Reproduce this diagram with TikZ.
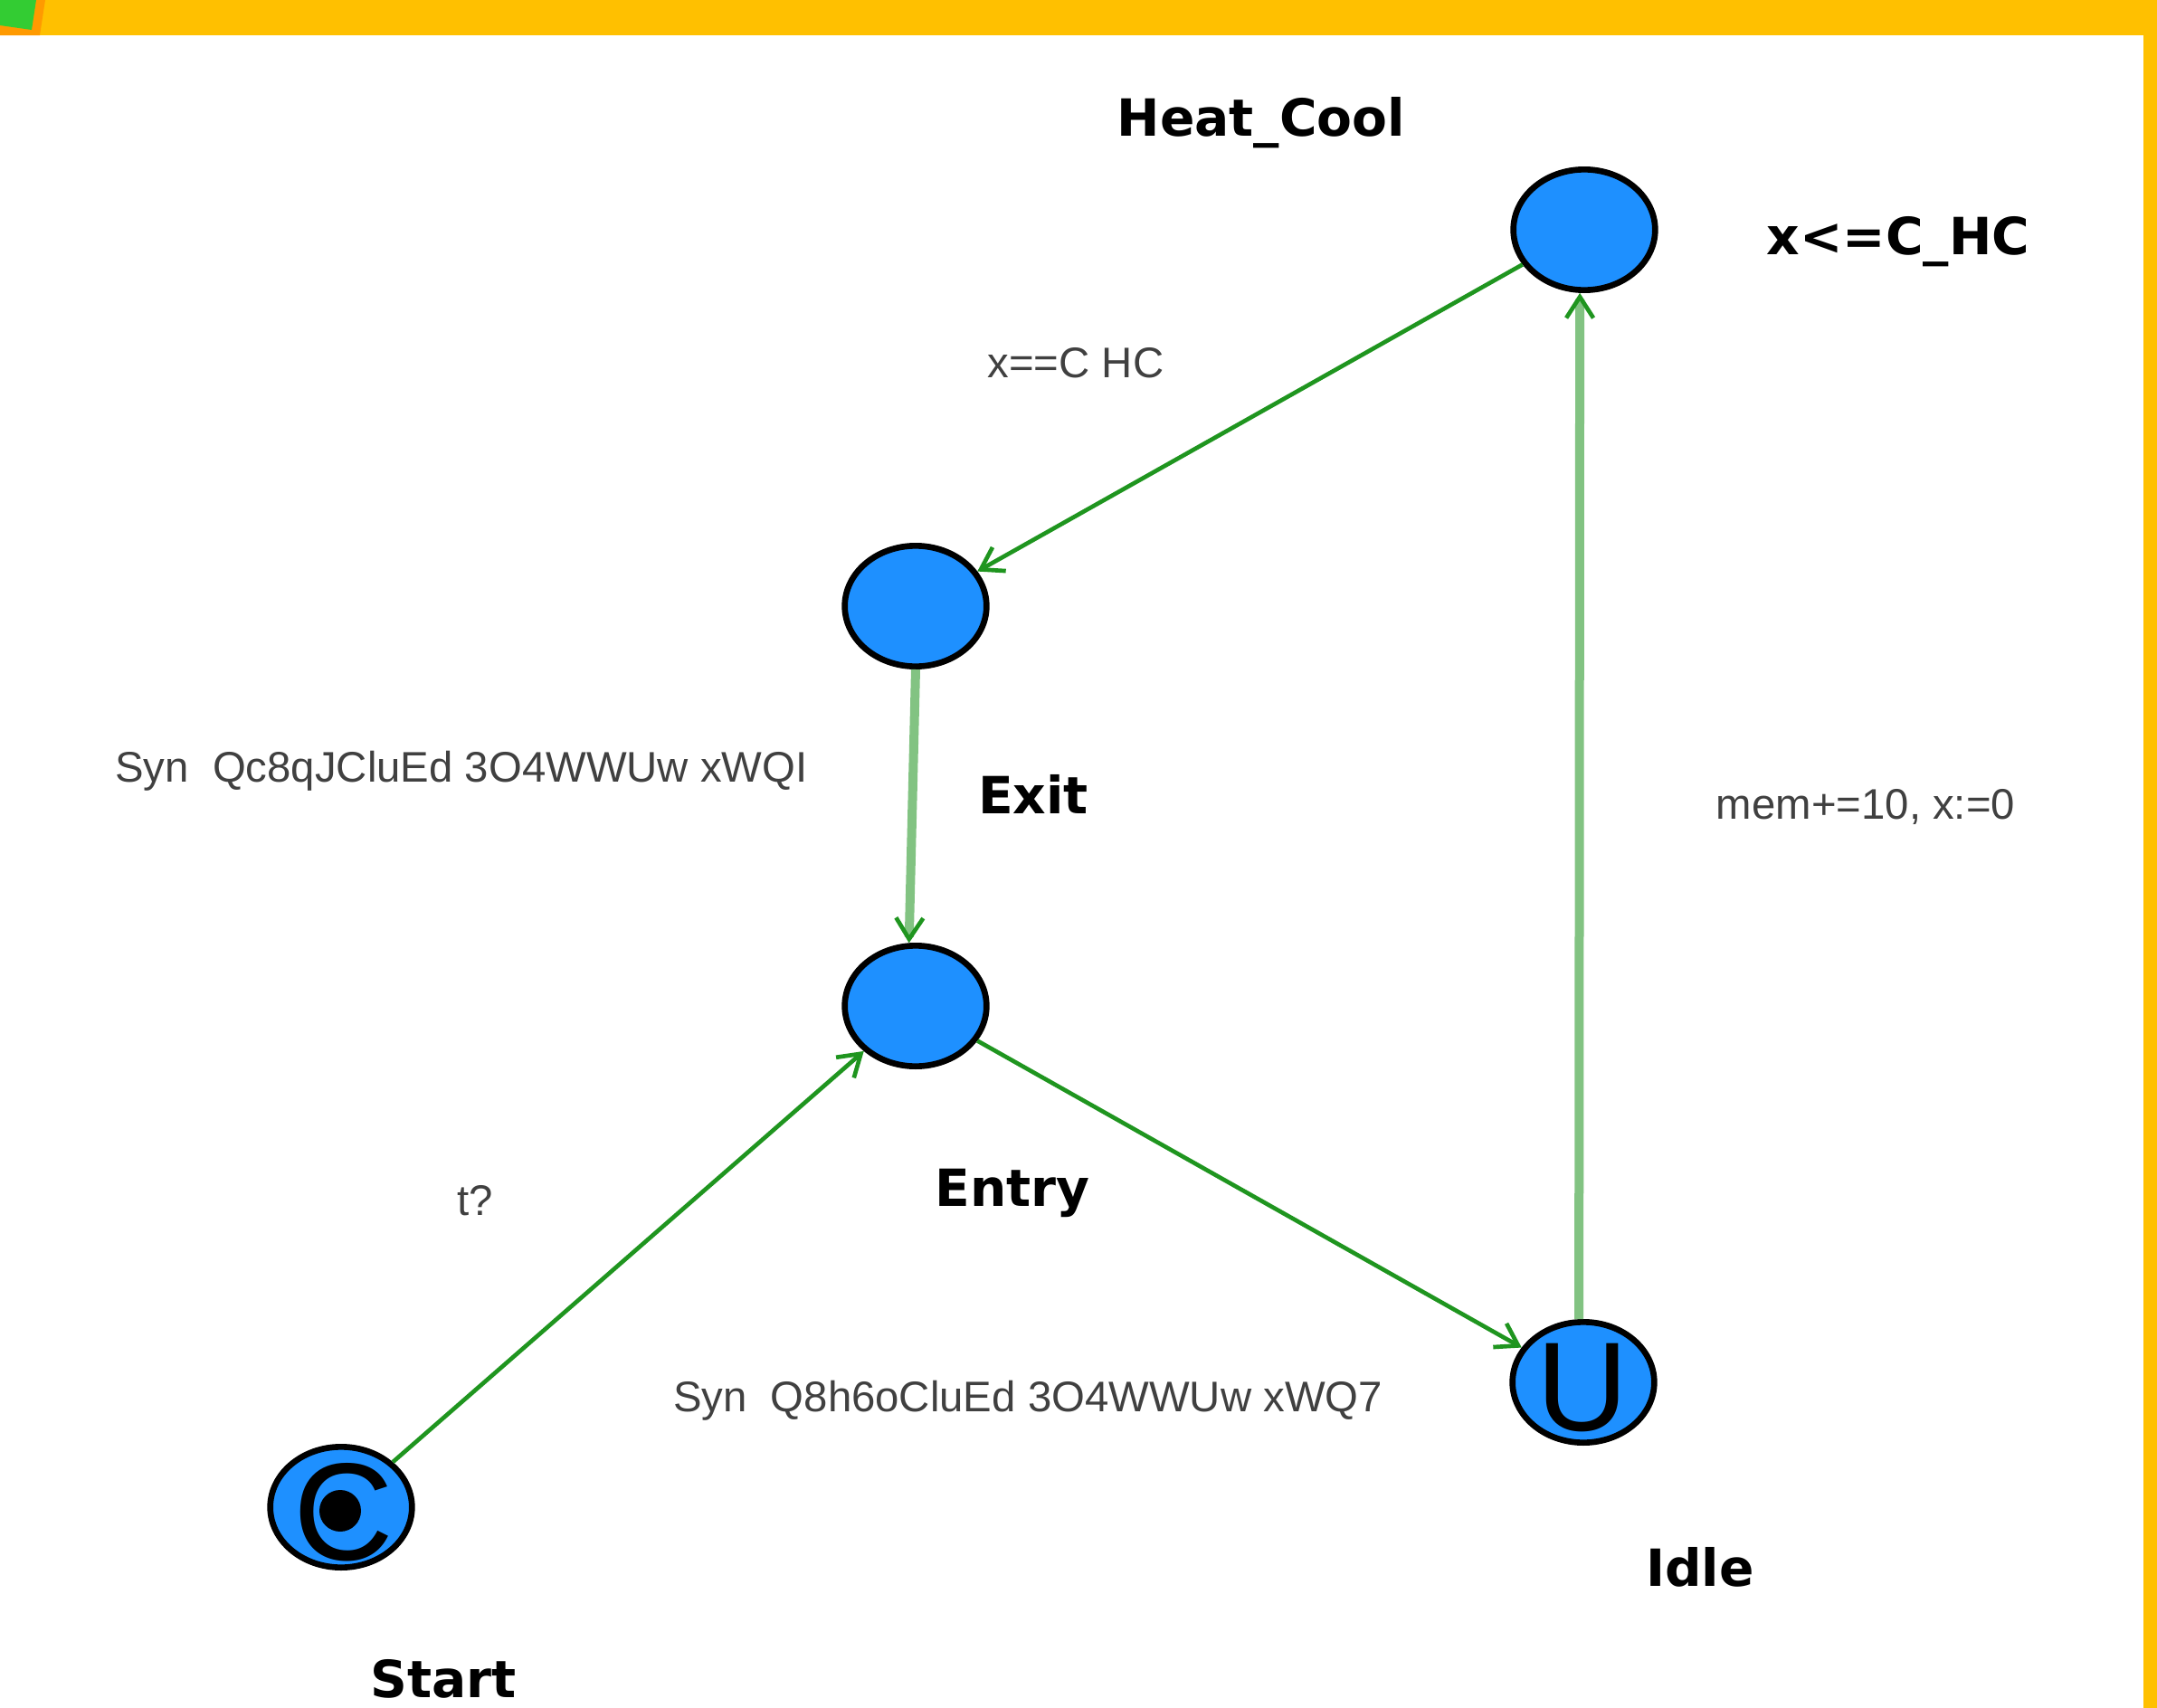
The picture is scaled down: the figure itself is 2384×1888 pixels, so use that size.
\documentclass[tikz,border=0pt]{standalone}
\usepackage{fontspec}
\setmainfont{Liberation Sans}
\newfontfamily\djv{DejaVu Sans}
\usetikzlibrary{arrows.meta,shapes.geometric}
\definecolor{bandyellow}{RGB}{255,192,0}
\definecolor{corange}{RGB}{255,154,0}
\definecolor{cgreen}{RGB}{51,204,51}
\definecolor{nodeblue}{RGB}{30,144,255}
\definecolor{dkgreen}{RGB}{31,149,31}
\definecolor{ltgreen}{RGB}{130,195,130}
\definecolor{lbl}{RGB}{64,64,64}
\tikzset{
  loc/.style={ellipse, draw=black, line width=2pt, fill=nodeblue, minimum width=47pt, minimum height=40pt, inner sep=0pt},
  bold label/.style={font=\djv\bfseries\fontsize{17}{17}\selectfont, text=black, inner sep=0pt},
  edge label/.style={font=\fontsize{14.2}{14.2}\selectfont, text=lbl, inner sep=0pt},
  thinedge/.style={draw=dkgreen, line width=1.4pt, -{Straight Barb[length=7pt,width=9pt,line width=1.4pt]}},
  wideedge/.style={draw=ltgreen, line width=3pt, -{Straight Barb[length=7pt,width=9pt,line width=1.4pt,color=dkgreen]}}
}
\begin{document}
\begin{tikzpicture}[x=0.3pt,y=-0.3pt]
\path[use as bounding box, fill=white] (0,0) rectangle (2384,1888);
% frame
\path[fill=bandyellow] (0,0) rectangle (2384,39);
\path[fill=bandyellow] (2369,0) rectangle (2384,1888);
\path[fill=corange] (0,0) -- (50,0) -- (44,39) -- (0,39) -- cycle;
\path[fill=cgreen] (0,0) -- (40,0) -- (35,33) -- (0,28) -- cycle;
% locations
\node[loc] (hc) at (1751,254) {};
\node[loc] (exit) at (1012,670) {};
\node[loc] (entry) at (1012,1112) {};
\node[loc] (idle) at (1750,1528) {};
\node[loc] (start) at (377,1666) {};
\node[font=\fontsize{42}{42}\selectfont, inner sep=0pt] (usym) at (1749,1534) {U};
\node[font=\fontsize{46}{46}\selectfont, inner sep=0pt] (csym) at (380,1672) {C};
\fill[black] (376,1670) circle[radius=23];
% location labels
\node[bold label] (lhc) at (1394,136) {Heat\_Cool};
\node[bold label] (linv) at (2098,267) {x<=C\_HC};
\node[bold label] (lexit) at (1142,878) {Exit};
\node[bold label] (lentry) at (1119,1319) {Entry};
\node[bold label] (lidle) at (1879,1732) {Idle};
\node[bold label] (lstart) at (490,1856) {Start};
% edges
\draw[thinedge] (hc) -- (exit);
\draw[wideedge] (exit.south) -- (entry.96);
\draw[thinedge] (start) -- (entry);
\draw[thinedge] (entry) -- (idle);
\draw[wideedge] (idle.94) -- (hc.266);
% edge labels
\node[edge label] (g1) at (1189,401) {x==C HC};
\node[edge label] (s1) at (510,852) {Syn\ \ Qc8qJCluEd 3O4WWUw xWQI};
\node[edge label] (s2) at (525,1327) {t?};
\node[edge label] (s3) at (1136,1548) {Syn\ \ Q8h6oCluEd 3O4WWUw xWQ7};
\node[edge label] (a1) at (2062,892) {mem+=10, x:=0};
\end{tikzpicture}
\end{document}
